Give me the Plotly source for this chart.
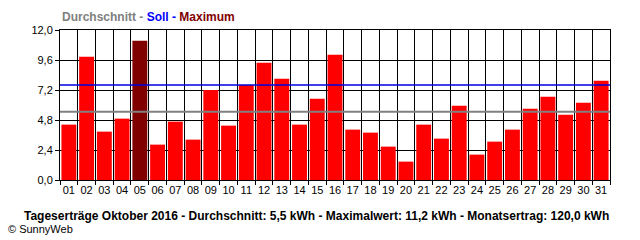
import plotly.graph_objects as go

days = [f"{d:02d}" for d in range(1, 32)]
values = [4.43, 9.87, 3.87, 4.91, 11.15, 2.83, 4.67, 3.23, 7.20, 4.35,
          7.60, 9.39, 8.11, 4.43, 6.51, 10.03, 4.03, 3.79, 2.67, 1.47,
          4.43, 3.31, 5.95, 2.03, 3.07, 4.03, 5.71, 6.67, 5.23, 6.19, 7.95]
average = 5.47
target = 7.6
y_ticks = [0.0, 2.4, 4.8, 7.2, 9.6, 12.0]
y_labels = ["0,0", "2,4", "4,8", "7,2", "9,6", "12,0"]

max_idx = values.index(max(values))
colors = ["#800000" if i == max_idx else "#FF0000" for i in range(len(values))]
xpos = list(range(1, len(days) + 1))

fig = go.Figure()
fig.add_trace(go.Bar(x=xpos, y=values, marker=dict(color=colors, line=dict(width=0)),
                     width=0.84, hoverinfo="skip"))
fig.add_trace(go.Scatter(x=[0.5, 31.5], y=[average, average], mode="lines",
                         line=dict(color="#808080", width=2), hoverinfo="skip"))
fig.add_trace(go.Scatter(x=[0.5, 31.5], y=[target, target], mode="lines",
                         line=dict(color="#0000E0", width=1.5), hoverinfo="skip"))

font = "Liberation Sans, Arial, sans-serif"
fig.update_layout(
    width=640, height=240,
    margin=dict(l=60, r=30, t=30, b=60),
    paper_bgcolor="white", plot_bgcolor="white",
    showlegend=False,
    font=dict(family=font, size=11, color="black"),
    xaxis=dict(
        range=[0.5, 31.5], tickmode="array", tickvals=xpos, ticktext=days,
        showgrid=False, ticks="", zeroline=False,
        showline=True, linecolor="black", linewidth=1, mirror=True,
        tickfont=dict(size=11),
        minor=dict(tickmode="linear", tick0=0.5, dtick=1, showgrid=True,
                   gridcolor="black", gridwidth=1, ticks="outside",
                   ticklen=4, tickcolor="black"),
    ),
    yaxis=dict(
        range=[0, 12.0], tickmode="array", tickvals=y_ticks, ticktext=y_labels,
        showgrid=True, gridcolor="black", gridwidth=1, zeroline=False,
        showline=True, linecolor="black", linewidth=1, mirror=True,
        ticks="outside", ticklen=4, tickcolor="black", tickfont=dict(size=11),
    ),
    annotations=[
        dict(xref="paper", yref="paper", x=0, y=1, xanchor="left", yanchor="bottom",
             yshift=4, showarrow=False,
             text="<b><span style='color:#808080'>Durchschnitt - </span>"
                  "<span style='color:#0000FF'>Soll - </span>"
                  "<span style='color:#800000'>Maximum</span></b>",
             font=dict(size=12, family=font)),
        dict(xref="paper", yref="paper", x=0.467, y=0, xanchor="center", yanchor="top",
             yshift=-27, showarrow=False,
             text="<b>Tageserträge Oktober 2016 - Durchschnitt: 5,5 kWh - Maximalwert: 11,2 kWh - Monatsertrag: 120,0 kWh</b>",
             font=dict(size=12, family=font)),
        dict(xref="paper", yref="paper", x=-0.10, y=0, xanchor="left", yanchor="top",
             yshift=-41, xshift=1, showarrow=False,
             text="© SunnyWeb", font=dict(size=11, family=font)),
    ],
)

fig.write_html("out.html")
